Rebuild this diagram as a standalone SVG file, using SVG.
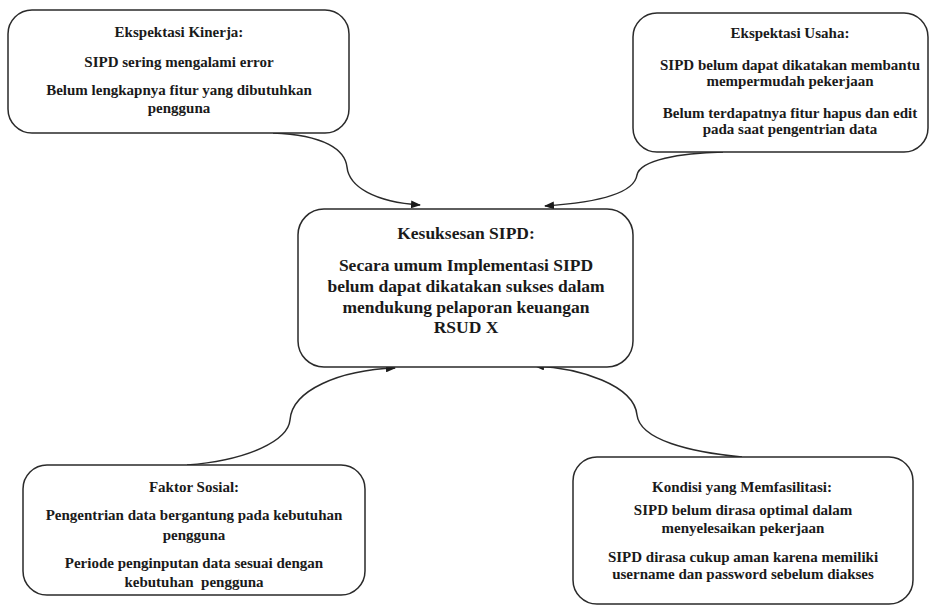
<svg xmlns="http://www.w3.org/2000/svg" width="931" height="606" viewBox="0 0 931 606">
<style>
.box{fill:#fff;stroke:#2a2a2a;stroke-width:1.5}
.t{font-family:"Liberation Serif","Times New Roman",serif;font-weight:bold;font-size:15px;fill:#1a1a1a;text-anchor:middle}
.c{font-size:17.5px}
.conn{fill:none;stroke:#2a2a2a;stroke-width:1.5}
</style>
<defs>
<marker id="ah" markerWidth="10" markerHeight="8" refX="9" refY="4" orient="auto" markerUnits="userSpaceOnUse">
<path d="M0,0 L10,4 L0,8 Z" fill="#1a1a1a"/>
</marker>
</defs>
<rect width="931" height="606" fill="#fff"/>
<g id="connectors">
<path class="conn" d="M273,133 C325,135 345,150 347,167 C349,187 375,202 420,205" marker-end="url(#ah)"/>
<path class="conn" d="M723,152 C680,153 640,160 637,175 C634,195 590,203 545,206" marker-end="url(#ah)"/>
<path class="conn" d="M187,465 C250,460 288,440 290,420 C292,390 340,370 395,368" marker-end="url(#ah)"/>
<path class="conn" d="M742,457 C690,452 640,440 637,415 C634,385 580,368 535,366" marker-end="url(#ah)"/>
</g>
<g id="kinerja">
<rect class="box" x="8" y="10" width="341" height="123" rx="24"/>
<text class="t" x="179" y="37">Ekspektasi Kinerja:</text>
<text class="t" x="179" y="67">SIPD sering mengalami error</text>
<text class="t" x="179" y="95">Belum lengkapnya fitur yang dibutuhkan</text>
<text class="t" x="179" y="113">pengguna</text>
</g>
<g id="usaha">
<rect class="box" x="633" y="13" width="295" height="139" rx="24"/>
<text class="t" x="790" y="38">Ekspektasi Usaha:</text>
<text class="t" x="790" y="70">SIPD belum dapat dikatakan membantu</text>
<text class="t" x="790" y="86">mempermudah pekerjaan</text>
<text class="t" x="790" y="118">Belum terdapatnya fitur hapus dan edit</text>
<text class="t" x="790" y="134">pada saat pengentrian data</text>
</g>
<g id="kesuksesan">
<rect class="box" x="298" y="209" width="335" height="158" rx="26"/>
<text class="t c" x="466" y="239">Kesuksesan SIPD:</text>
<text class="t c" x="466" y="271">Secara umum Implementasi SIPD</text>
<text class="t c" x="466" y="292">belum dapat dikatakan sukses dalam</text>
<text class="t c" x="466" y="313">mendukung pelaporan keuangan</text>
<text class="t c" x="466" y="333">RSUD X</text>
</g>
<g id="sosial">
<rect class="box" x="23" y="465" width="342" height="130" rx="24"/>
<text class="t" x="194" y="492">Faktor Sosial:</text>
<text class="t" x="194" y="520">Pengentrian data bergantung pada kebutuhan</text>
<text class="t" x="194" y="540">pengguna</text>
<text class="t" x="194" y="568">Periode penginputan data sesuai dengan</text>
<text class="t" x="194" y="587" xml:space="preserve">kebutuhan  pengguna</text>
</g>
<g id="kondisi">
<rect class="box" x="573" y="457" width="340" height="147" rx="24"/>
<text class="t" x="742" y="492">Kondisi yang Memfasilitasi:</text>
<text class="t" x="743" y="515">SIPD belum dirasa optimal dalam</text>
<text class="t" x="743" y="533">menyelesaikan pekerjaan</text>
<text class="t" x="743" y="562">SIPD dirasa cukup aman karena memiliki</text>
<text class="t" x="743" y="579">username dan password sebelum diakses</text>
</g>
</svg>
